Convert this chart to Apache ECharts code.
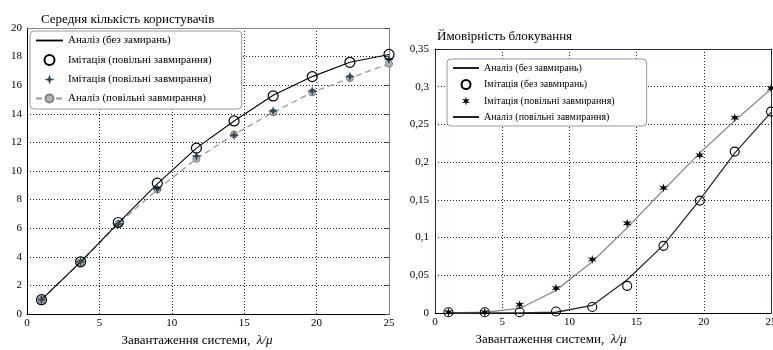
<!DOCTYPE html>
<html>
<head>
<meta charset="utf-8">
<script src="https://cdn.jsdelivr.net/npm/echarts@6/dist/echarts.min.js"></script>
<style>
html, body { margin: 0; padding: 0; background: #fff; }
#chart { width: 773px; height: 350px; }
</style>
</head>
<body>
<div id="chart"></div>
<script>
// навантаження системи (вісь X обох панелей)
const load = [1, 3.7, 6.3, 9, 11.7, 14.3, 17, 19.7, 22.3, 25]

// ліва панель: середня кількість користувачів
const usersAnalysisNoFade = [1.0, 3.65, 6.35, 9.1, 11.6, 13.5, 15.3, 16.6, 17.6, 18.15]
const usersSimNoFade = [1.0, 3.65, 6.4, 9.15, 11.6, 13.5, 15.25, 16.6, 17.6, 18.15]
const usersSimSlowFade = [1.0, 3.65, 6.3, 8.75, 11.05, 12.5, 14.2, 15.6, 16.6, 17.8]
const usersAnalysisSlowFade = [1.0, 3.6, 6.3, 8.7, 10.85, 12.55, 14.1, 15.5, 16.5, 17.5]

// права панель: ймовірність блокування
const blockAnalysisNoFade = [0, 0, 0, 0.001, 0.01, 0.044, 0.09, 0.15, 0.212, 0.266]
const blockSimNoFade = [0.001, 0.001, 0.001, 0.002, 0.008, 0.036, 0.089, 0.149, 0.214, 0.267]
const blockSimSlowFade = [0.001, 0.001, 0.011, 0.033, 0.071, 0.119, 0.166, 0.209, 0.259, 0.298]
const blockAnalysisSlowFade = [0, 0.001, 0.006, 0.03, 0.068, 0.113, 0.163, 0.212, 0.255, 0.297]

const serif = 'Liberation Serif'
const ZW = '\u200b' // щоб однакові підписи легенди не злипались
const pairs = (ys) => load.map((x, i) => [x, ys[i]])

const star4 = 'path://M0,-10 L2.5,-2.5 L10,0 L2.5,2.5 L0,10 L-2.5,2.5 L-10,0 L-2.5,-2.5 Z'
const star6 = 'path://M0,-10 L1.8,-3.1 L8.66,-5 L3.6,0 L8.66,5 L1.8,3.1 L0,10 L-1.8,3.1 L-8.66,5 L-3.6,0 L-8.66,-5 L-1.8,-3.1 Z'
const lineIcon = 'path://M0,0 L30,0 L30,2 L0,2 Z'

const xName = {
  rich: {
    a: { fontFamily: serif, fontSize: 13, color: '#000' },
    b: { fontFamily: serif, fontSize: 13, color: '#000', fontStyle: 'italic' }
  }
}
const dotted = { lineStyle: { color: '#222', type: [1, 2], width: 1 } }
const frame = (color) => ({ show: true, onZero: false, lineStyle: { color: color } })

let chart = echarts.init(document.getElementById('chart'))
let option = {
  animation: false,
  textStyle: { fontFamily: serif },
  title: [
    { text: 'Середня кількість користувачів', left: 36, top: 8,
      textStyle: { fontFamily: serif, fontSize: 13, fontWeight: 'normal', color: '#000' } },
    { text: 'Ймовірність блокування', left: 432, top: 25,
      textStyle: { fontFamily: serif, fontSize: 13, fontWeight: 'normal', color: '#000' } }
  ],
  grid: [
    { left: 27, top: 28, width: 362, height: 286, outerBoundsMode: 'none', containLabel: false },
    { left: 435, top: 49, width: 336, height: 264, outerBoundsMode: 'none', containLabel: false }
  ],
  legend: [
    {
      orient: 'vertical', left: 30, top: 31,
      padding: [4, 30, 5, 5], itemGap: 8, itemWidth: 27, itemHeight: 10,
      backgroundColor: '#fff', borderColor: '#999', borderWidth: 1, borderRadius: 4,
      textStyle: { fontFamily: serif, fontSize: 11, color: '#000' },
      formatter: (n) => n.replace(/\u200b/g, ''),
      data: [{ name: 'Аналіз (без замирань)', icon: lineIcon, itemStyle: { color: '#000' } },
        'Імітація (повільні завмирання)',
        'Імітація (повільні завмирання)' + ZW, 'Аналіз (повільні завмирання)']
    },
    {
      orient: 'vertical', left: 447, top: 59,
      padding: [4, 32, 4, 6], itemGap: 6, itemWidth: 26, itemHeight: 9,
      backgroundColor: '#fff', borderColor: '#999', borderWidth: 1, borderRadius: 4,
      textStyle: { fontFamily: serif, fontSize: 10, color: '#000' },
      formatter: (n) => n.replace(/\u200b/g, ''),
      data: [{ name: 'Аналіз (без завмирань)', icon: lineIcon, itemStyle: { color: '#000' } },
        'Імітація (без завмирань)',
        'Імітація (повільні завмирання)' + ZW + ZW,
        { name: 'Аналіз (повільні завмирання)' + ZW, icon: lineIcon, itemStyle: { color: '#000' } }]
    }
  ],
  xAxis: [
    {
      gridIndex: 0, type: 'value', min: 0, max: 25, interval: 5,
      axisLine: frame('#000'), axisTick: { show: false },
      axisLabel: { fontFamily: serif, fontSize: 11, color: '#000', margin: 4 },
      splitLine: dotted,
      name: '{a|Завантаження системи,  }{b|λ/μ}', nameLocation: 'middle', nameGap: 19,
      nameTextStyle: Object.assign({ padding: [0, 22, 0, 0] }, xName)
    },
    {
      gridIndex: 0, type: 'value', min: 0, max: 25, position: 'top',
      axisLine: frame('#888'), axisTick: { show: false },
      axisLabel: { show: false }, splitLine: { show: false }
    },
    {
      gridIndex: 1, type: 'value', min: 0, max: 25, interval: 5,
      axisLine: frame('#000'), axisTick: { show: false },
      axisLabel: { fontFamily: serif, fontSize: 11, color: '#000', margin: 4 },
      splitLine: dotted,
      name: '{a|Завантаження системи,  }{b|λ/μ}', nameLocation: 'middle', nameGap: 20,
      nameTextStyle: Object.assign({ padding: [0, 104, 0, 0] }, xName)
    },
    {
      gridIndex: 1, type: 'value', min: 0, max: 25, position: 'top',
      axisLine: frame('#1c2450'), axisTick: { show: false },
      axisLabel: { show: false }, splitLine: { show: false }
    }
  ],
  yAxis: [
    {
      gridIndex: 0, type: 'value', min: 0, max: 20, interval: 2,
      axisLine: frame('#000'), axisTick: { show: false },
      axisLabel: { fontFamily: serif, fontSize: 11, color: '#000', margin: 5 },
      splitLine: dotted
    },
    {
      gridIndex: 0, type: 'value', min: 0, max: 20, interval: 2, position: 'right',
      axisLine: frame('#888'),
      axisTick: { show: true, inside: true, length: 4, lineStyle: { color: '#444' } },
      axisLabel: { show: false }, splitLine: { show: false }
    },
    {
      gridIndex: 1, type: 'value', min: 0, max: 0.35, interval: 0.05,
      axisLine: frame('#1c2450'), axisTick: { show: false },
      axisLabel: { fontFamily: serif, fontSize: 11, color: '#000', margin: 6,
        formatter: (v) => String(+v.toFixed(2)).replace('.', ',') },
      splitLine: dotted
    },
    {
      gridIndex: 1, type: 'value', min: 0, max: 0.35, position: 'right',
      axisLine: frame('#1c2450'), axisTick: { show: false },
      axisLabel: { show: false }, splitLine: { show: false }
    }
  ],
  series: [
    // ліва панель
    {
      name: 'Аналіз (повільні завмирання)', type: 'line', xAxisIndex: 0, yAxisIndex: 0,
      data: pairs(usersAnalysisSlowFade), symbol: 'circle', symbolSize: 7,
      itemStyle: { color: '#b4b4b4', borderColor: '#808080', borderWidth: 1 },
      lineStyle: { color: '#9a9a9a', width: 1.3, type: [6, 4] }, z: 2
    },
    {
      name: 'Аналіз (без замирань)', type: 'line', xAxisIndex: 0, yAxisIndex: 0,
      data: pairs(usersAnalysisNoFade), symbol: 'none',
      lineStyle: { color: '#000', width: 1.1 }, itemStyle: { color: '#000' }, z: 3
    },
    {
      name: 'Імітація (повільні завмирання)' + ZW, type: 'scatter', xAxisIndex: 0, yAxisIndex: 0,
      data: pairs(usersSimSlowFade), symbol: star4, symbolSize: 10,
      itemStyle: { color: '#2f4b5b', opacity: 1 }, z: 4
    },
    {
      name: 'Імітація (повільні завмирання)', type: 'scatter', xAxisIndex: 0, yAxisIndex: 0,
      data: pairs(usersSimNoFade), symbol: 'circle', symbolSize: 10,
      itemStyle: { color: 'rgba(0,0,0,0)', borderColor: '#000', borderWidth: 1.2, opacity: 1 }, z: 5
    },
    // права панель
    {
      name: 'Аналіз (повільні завмирання)' + ZW, type: 'line', xAxisIndex: 2, yAxisIndex: 2,
      data: pairs(blockAnalysisSlowFade), symbol: 'none',
      lineStyle: { color: '#8c8c8c', width: 1.3 }, itemStyle: { color: '#8c8c8c' }, z: 2
    },
    {
      name: 'Аналіз (без завмирань)', type: 'line', xAxisIndex: 2, yAxisIndex: 2,
      data: pairs(blockAnalysisNoFade), symbol: 'none',
      lineStyle: { color: '#2a2a2a', width: 1.3 }, itemStyle: { color: '#000' }, z: 3
    },
    {
      name: 'Імітація (повільні завмирання)' + ZW + ZW, type: 'scatter', xAxisIndex: 2, yAxisIndex: 2,
      data: pairs(blockSimSlowFade), symbol: star6, symbolSize: 9,
      itemStyle: { color: '#000', opacity: 1 }, z: 4
    },
    {
      name: 'Імітація (без завмирань)', type: 'scatter', xAxisIndex: 2, yAxisIndex: 2,
      data: pairs(blockSimNoFade), symbol: 'circle', symbolSize: 9,
      itemStyle: { color: 'rgba(0,0,0,0)', borderColor: '#000', borderWidth: 1.1, opacity: 1 }, z: 5
    }
  ]
}
chart.setOption(option)
</script>
</body>
</html>
